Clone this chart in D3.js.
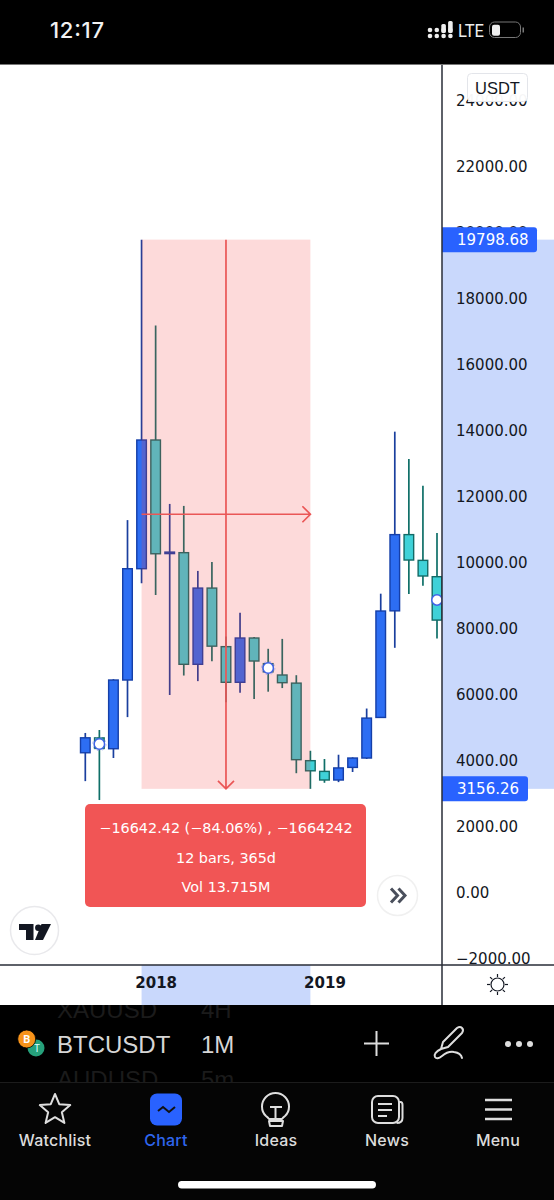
<!DOCTYPE html>
<html><head><meta charset="utf-8">
<script src="https://cdn.jsdelivr.net/npm/d3@7"></script>
<style>html,body{margin:0;padding:0;background:#000}svg{display:block}</style>
</head><body><svg id="c" width="554" height="1200"></svg>
<script>
// ---- data ----
const months = ["2017-08","2017-09","2017-10","2017-11","2017-12","2018-01","2018-02","2018-03","2018-04","2018-05","2018-06","2018-07","2018-08","2018-09","2018-10","2018-11","2018-12","2019-01","2019-02","2019-03","2019-04","2019-05","2019-06","2019-07","2019-08","2019-09"];
const opens  = [4250,4700,4372,6454,9827,13727,10285,10313,6930,9240,7465,6385,7727,6950,6606,6360,4010,3685,3424,3806,4090,5320,8550,10860,10080,9585];
const closes = [4703,4380,6454,9827,13727,10280,10330,6930,9240,7480,6385,7727,7030,6700,6373,4040,3703,3424,3790,4090,5300,8545,10860,10090,9606,8270];
const highs  = [4850,4939,6480,11300,19798.68,17200,11790,11730,9760,10030,7770,8490,7760,7400,7700,6600,4310,4060,4190,4110,5590,9070,13980,13150,12340,10910];
const lows   = [3390,2817,4090,5330,9390,9030,6000,6590,6420,7020,5780,6070,5880,6100,6210,3630,3156.26,3340,3360,3667,4060,5320,7430,9060,9310,7710];
const priceTicks = [24000,22000,20000,18000,16000,14000,12000,10000,8000,6000,4000,2000,0,-2000];
const yearTicks = ["2018-01","2019-01"];
const yearLabels = ["2018","2019"];
const rangeHigh = 19798.68, rangeLow = 3156.26;
const rangeStart = "2017-12", rangeEnd = "2018-12";
const anchorMonths = ["2017-09","2018-09","2019-09"];
const anchorPrices = [4515,6818,8880];
const tipLines = ["\u221216642.42 (\u221284.06%) , \u22121664242","12 bars, 365d","Vol 13.715M"];
const navLabels = ["Watchlist","Chart","Ideas","News","Menu"];
const navX = [55,166,276,387,498];

// ---- scales ----
const x = d3.scalePoint().domain(months).range([85.3,437]);
const y = d3.scaleLinear().domain([0,22000]).range([893,167]);
const svg = d3.select("#c");
const F = "'DejaVu Sans',sans-serif", R = "Roboto,sans-serif", I = "Inter,Roboto,sans-serif", L = "'Liberation Sans',sans-serif";
const UP="#2d6ef3", DOWN="#3fd1d8", UPW="#1a3f9e", DOWNW="#0f6f68", UPB="#153fa8", DOWNB="#136a66";

svg.append("rect").attr("width",554).attr("height",1200).attr("fill","#000");
svg.append("rect").attr("y",65).attr("width",554).attr("height",940).attr("fill","#fff");

// ---- axis highlights ----
svg.append("rect").attr("x",442).attr("width",112).attr("y",y(rangeHigh)).attr("height",y(rangeLow)-y(rangeHigh)).attr("fill","#c9d8fc");
svg.append("rect").attr("x",x(rangeStart)).attr("width",x(rangeEnd)-x(rangeStart)).attr("y",965).attr("height",40).attr("fill","#c9d8fc");

// ---- candles ----
svg.append("clipPath").attr("id","pane").append("rect").attr("x",0).attr("y",65).attr("width",442).attr("height",900);
const plot = svg.append("g").attr("clip-path","url(#pane)");
const rows = months.map((m,i)=>({m,o:opens[i],c:closes[i],h:highs[i],l:lows[i],up:closes[i]>=opens[i]}));
const g = plot.selectAll("g.k").data(rows).join("g");
g.append("line").attr("x1",d=>x(d.m)).attr("x2",d=>x(d.m)).attr("y1",d=>y(d.h)).attr("y2",d=>y(d.l))
 .attr("stroke",d=>d.up?UPW:DOWNW).attr("stroke-width",1.7);
g.append("rect").attr("x",d=>x(d.m)-4.8).attr("width",9.6)
 .attr("y",d=>y(Math.max(d.o,d.c))).attr("height",d=>Math.max(0.6,Math.abs(y(d.o)-y(d.c))))
 .attr("fill",d=>d.up?UP:DOWN).attr("stroke",d=>d.up?UPB:DOWNB).attr("stroke-width",1.4);

// ---- measure overlay ----
const x0=x(rangeStart), x1=x(rangeEnd), yT=y(rangeHigh), yB=y(rangeLow), xm=(x0+x1)/2, ym=(yT+yB)/2;
plot.append("rect").attr("x",x0).attr("y",yT).attr("width",x1-x0).attr("height",yB-yT).attr("fill","#f23c3c").attr("fill-opacity",0.19);
plot.append("path").attr("fill","none").attr("stroke","#ea5656").attr("stroke-width",1.7)
 .attr("d",`M${xm},${yT}V${yB}M${xm-8},${yB-8}L${xm},${yB}L${xm+8},${yB-8}M${x0},${ym}H${x1}M${x1-8},${ym-8}L${x1},${ym}L${x1-8},${ym+8}`);

// ---- anchors ----
anchorMonths.forEach((m,i)=>{
  const cx=x(m), cy=y(anchorPrices[i]);
  plot.append("circle").attr("cx",cx).attr("cy",cy).attr("r",5.2).attr("fill","#fff").attr("stroke","#3f63e8").attr("stroke-width",1.5);
  if(i<2) plot.append("circle").attr("cx",cx).attr("cy",cy).attr("r",6.7).attr("fill","none").attr("stroke","#8a96e6").attr("stroke-width",.6).attr("stroke-dasharray","2.5 2.8");
});

// ---- price axis ----
const axisY = d3.axisRight(y).tickValues(priceTicks).tickSize(0).tickPadding(0)
  .tickFormat(v=>(v<0?"\u2212":"")+d3.format(".2f")(Math.abs(v)));
svg.append("clipPath").attr("id","pa").append("rect").attr("x",443).attr("y",65).attr("width",111).attr("height",899);
const ay = svg.append("g").attr("clip-path","url(#pa)").append("g").attr("transform","translate(456,0)").call(axisY);
ay.select(".domain").remove();
ay.selectAll("text").attr("font-family",F).attr("font-size",15).attr("fill","#131722").attr("x",0);

// ---- price labels ----
[[rangeHigh,"19798.68",95],[rangeLow,"3156.26",86]].forEach(([v,t,w])=>{
  svg.append("path").attr("fill","#2962ff")
    .attr("d",`M442,${y(v)-12.5}H${442+w-3}a3,3 0 0 1 3,3V${y(v)+9.5}a3,3 0 0 1 -3,3H442Z`);
  svg.append("text").attr("x",457).attr("y",y(v)+5.5).attr("font-family",F).attr("font-size",15).attr("fill","#fff").text(t);
});

// ---- USDT chip ----
svg.append("rect").attr("x",467.5).attr("y",73.5).attr("width",60).attr("height",28).attr("rx",4).attr("fill","#fff").attr("fill-opacity",.96).attr("stroke","#e3e5ea");
svg.append("text").attr("x",497.5).attr("y",94).attr("text-anchor","middle").attr("font-family",L).attr("font-size",16.5).attr("fill","#131722").text("USDT");

// ---- time axis ----
const axisX = d3.axisBottom(x).tickValues(yearTicks).tickSize(0).tickPadding(0)
  .tickFormat(d=>yearLabels[yearTicks.indexOf(d)]);
const ax = svg.append("g").attr("transform","translate(0,976)").call(axisX);
ax.select(".domain").remove();
ax.selectAll("text").attr("font-family",F).attr("font-size",15).attr("font-weight",600).attr("fill","#131722").attr("y",0).attr("dy","0.8em");

// ---- frame lines ----
svg.append("path").attr("stroke","#2a2e39").attr("stroke-width",1.5).attr("fill","none").attr("d","M442,65V1005M0,965H554");
svg.append("line").attr("x1",0).attr("x2",554).attr("y1",64.5).attr("y2",64.5).attr("stroke","#777");

// ---- tooltip ----
svg.append("rect").attr("x",85).attr("y",804).attr("width",281).attr("height",103).attr("rx",5).attr("fill","#f15555");
tipLines.forEach((t,i)=>svg.append("text").attr("x",226).attr("y",833+i*29.5).attr("text-anchor","middle")
  .attr("font-family",F).attr("font-size",14.4).attr("fill","#fff").text(t));

// ---- round buttons ----
svg.append("circle").attr("cx",397.5).attr("cy",895.5).attr("r",20).attr("fill","#fff").attr("stroke","#f0f0f0").attr("stroke-width",1.5);
svg.append("path").attr("fill","none").attr("stroke","#4a4f5c").attr("stroke-width",3)
  .attr("d","M391,888.5l6.5,7l-6.5,7M398.5,888.5l6.5,7l-6.5,7");
svg.append("circle").attr("cx",34.5).attr("cy",930.5).attr("r",24).attr("fill","#fff").attr("stroke","#e9e9ec").attr("stroke-width",1.5);
svg.append("path").attr("fill","#131722").attr("d","M19,924H33.5V940H26V930H19ZM41.5,924H51L43,940H35Z");
svg.append("circle").attr("cx",38.3).attr("cy",927.7).attr("r",3.2).attr("fill","#131722");

// ---- sun ----
const sun = svg.append("g").attr("transform","translate(497.5,984.5)").attr("stroke","#131722").attr("fill","none").attr("stroke-width",1.2);
sun.append("circle").attr("r",6.5);
d3.range(8).forEach(i=>{const a=i*Math.PI/4;sun.append("line").attr("x1",7.5*Math.cos(a)).attr("y1",7.5*Math.sin(a)).attr("x2",10.5*Math.cos(a)).attr("y2",10.5*Math.sin(a));});

// ---- status bar ----
svg.append("text").attr("x",50).attr("y",38).attr("font-family",I).attr("font-size",22).attr("font-weight",500).attr("textLength",54).attr("fill","#f2f2f2").text("12:17");
[0,1,2,3].forEach(i=>{
  [0,1].forEach(j=>svg.append("circle").attr("cx",430+i*6.8).attr("cy",j?36:30).attr("r",2.3).attr("fill","#eee"));
});
[2,3].forEach(i=>svg.append("rect").attr("x",427.7+i*6.8).attr("y",i==2?24:21).attr("width",4.6).attr("height",i==2?9:12).attr("rx",1.5).attr("fill","#eee"));
svg.append("text").attr("x",458).attr("y",37).attr("font-family",R).attr("font-size",18).attr("textLength",26).attr("lengthAdjust","spacingAndGlyphs").attr("fill","#eee").text("LTE");
svg.append("rect").attr("x",489.5).attr("y",22).attr("width",31).attr("height",15.5).attr("rx",5).attr("fill","none").attr("stroke","#777");
svg.append("rect").attr("x",492).attr("y",24.7).attr("width",8).attr("height",11).attr("rx",2).attr("fill","#eee");
svg.append("rect").attr("x",522.5).attr("y",27.5).attr("width",1.5).attr("height",5).attr("fill","#777");

// ---- symbol bar ----
svg.append("clipPath").attr("id","ghost").append("rect").attr("x",0).attr("y",1005).attr("width",554).attr("height",77);
const gh = svg.append("g").attr("clip-path","url(#ghost)").attr("font-family",L).attr("font-size",24).attr("fill","#1b1b1b");
[["XAUUSD",57,1018],["4H",201,1018],["AUDUSD",57,1088],["5m",201,1088]].forEach(([t,a,b])=>gh.append("text").attr("x",a).attr("y",b).text(t));
svg.append("circle").attr("cx",36).attr("cy",1048).attr("r",8.5).attr("fill","#26a17b");
svg.append("text").attr("x",37).attr("y",1052).attr("text-anchor","middle").attr("font-size",10).attr("font-family",R).attr("fill","#dff").text("T");
svg.append("circle").attr("cx",26.7).attr("cy",1039).attr("r",9).attr("fill","#f7931a").attr("stroke","#000").attr("stroke-width",.8);
svg.append("text").attr("x",26.7).attr("y",1043).attr("text-anchor","middle").attr("font-size",11).attr("font-weight",700).attr("font-family",R).attr("fill","#fff").text("B");
svg.append("text").attr("x",57).attr("y",1053).attr("font-family",L).attr("font-size",24).attr("fill","#d6d6d6").text("BTCUSDT");
svg.append("text").attr("x",201).attr("y",1053).attr("font-family",L).attr("font-size",24).attr("fill","#d6d6d6").text("1M");
svg.append("path").attr("stroke","#ddd").attr("stroke-width",2).attr("fill","none").attr("d","M364,1043.5H389M376.5,1031V1056");
svg.append("path").attr("stroke","#ddd").attr("stroke-width",2).attr("fill","none").attr("stroke-linejoin","round").attr("stroke-linecap","round")
  .attr("d","M441,1049l2,-7l14,-14q3,-2 5,0q2,2 0,5l-14,14ZM441,1049q-8,4 -6,8q2,3 7,-1q6,-5 12,-4q7,1 8,6");
[508,519,530].forEach(cx=>svg.append("circle").attr("cx",cx).attr("cy",1044).attr("r",3).attr("fill","#ddd"));

// ---- nav ----
svg.append("rect").attr("y",1082).attr("width",554).attr("height",118).attr("fill","#050505");
svg.append("line").attr("x1",0).attr("x2",554).attr("y1",1082.5).attr("y2",1082.5).attr("stroke","#1c1c1c");
navLabels.forEach((t,i)=>svg.append("text").attr("x",navX[i]).attr("y",1145.5).attr("text-anchor","middle")
  .attr("font-family",I).attr("font-size",16).attr("font-weight",500).attr("letter-spacing",.2)
  .attr("fill",i==1?"#2f66ee":"#dcdcdc").text(t));
const W="#dedede";
const star=d3.range(10).map(i=>{const r=i%2?7.2:16,a=-Math.PI/2+i*Math.PI/5;return [55+r*Math.cos(a),1110+r*Math.sin(a)];});
svg.append("path").attr("d",d3.line()(star)+"Z").attr("fill","none").attr("stroke",W).attr("stroke-width",2).attr("stroke-linejoin","round");
svg.append("rect").attr("x",150).attr("y",1093.5).attr("width",32).attr("height",32).attr("rx",7).attr("fill","#2962ff");
svg.append("path").attr("d","M158,1111l5,-4l6,5l6,-5").attr("fill","none").attr("stroke","#111").attr("stroke-width",2);
svg.append("path").attr("d","M269,1119q-1,-1.5 -3,-3q-4,-3.5 -4,-9.5a13.5,13.5 0 0 1 27,0q0,6 -4,9.5q-2,1.5 -3,3ZM269,1121H283L282,1126H270Z").attr("fill","none").attr("stroke",W).attr("stroke-width",2).attr("stroke-linejoin","round");
svg.append("path").attr("d","M270,1107H282M275.5,1107V1119").attr("fill","none").attr("stroke",W).attr("stroke-width",2);
svg.append("rect").attr("x",372).attr("y",1096).attr("width",27).attr("height",27).attr("rx",6).attr("fill","none").attr("stroke",W).attr("stroke-width",2);
svg.append("path").attr("d","M378,1104H392M378,1110H392M378,1116H387M399,1102h1.5q2,0 2,3V1118q0,5 -6,5").attr("fill","none").attr("stroke",W).attr("stroke-width",2);
svg.append("path").attr("d","M485,1100H512M485,1109.5H512M485,1119H512").attr("fill","none").attr("stroke",W).attr("stroke-width",2.6);
svg.append("rect").attr("x",178).attr("y",1181).attr("width",198).attr("height",7.5).attr("rx",3.7).attr("fill","#fff");
</script></body></html>
